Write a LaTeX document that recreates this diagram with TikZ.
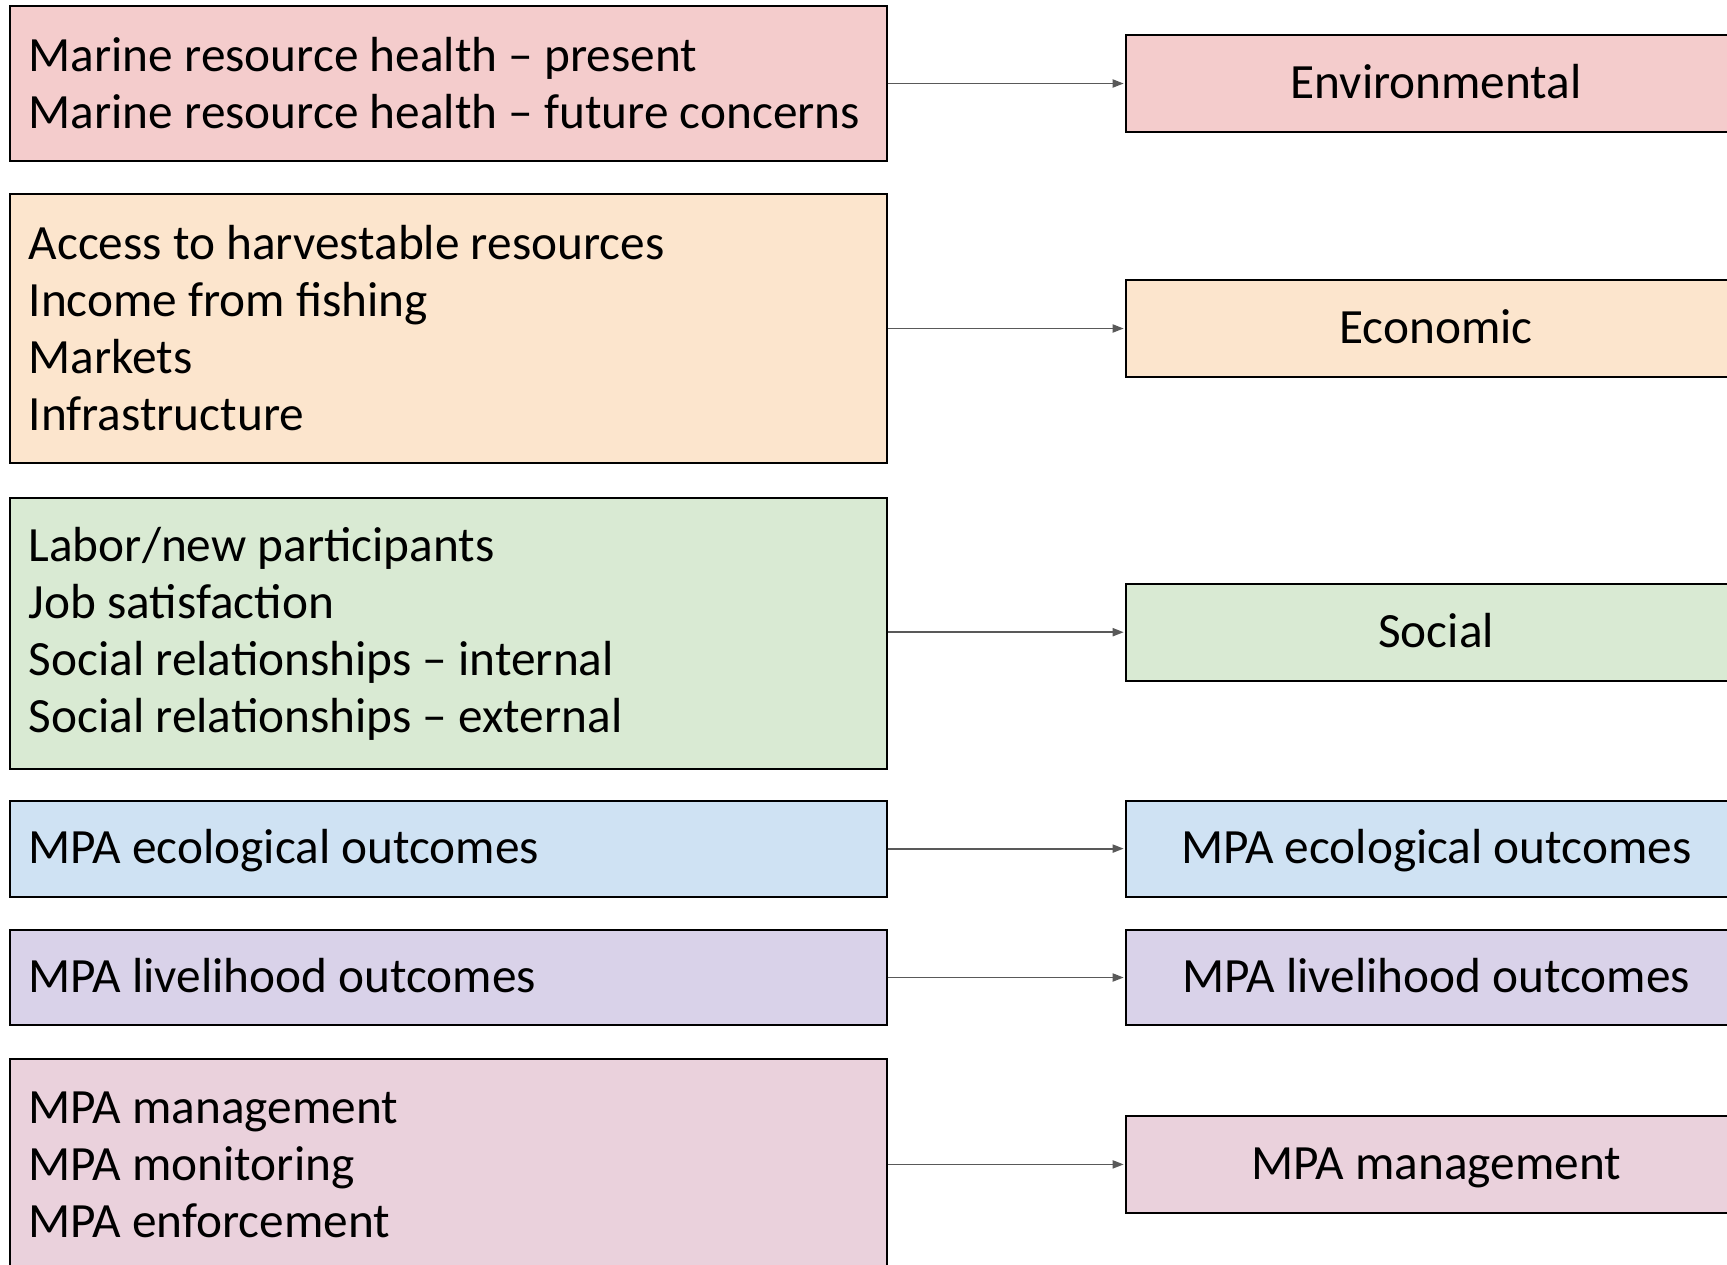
\documentclass[tikz,border=0pt]{standalone}
\usepackage{fontspec}
\setmainfont{Carlito}
\usetikzlibrary{arrows.meta}

\definecolor{envfill}{HTML}{F4CCCC}
\definecolor{ecofill}{HTML}{FCE5CD}
\definecolor{socfill}{HTML}{D9EAD3}
\definecolor{ecolfill}{HTML}{CFE2F3}
\definecolor{livefill}{HTML}{D9D2E9}
\definecolor{mgmtfill}{HTML}{EAD1DC}
\definecolor{arrowgray}{HTML}{595959}

\tikzset{
  x=1pt, y=-1pt,
  basebox/.style={draw=black, line width=2pt, rectangle,
    font=\fontsize{49.3}{57}\selectfont},
  itembox/.style={basebox, minimum width=876.7pt, text width=839.3pt,
    inner xsep=18.7pt, inner ysep=0pt, align=flush left},
  oneline/.style={text height=30pt, text depth=0pt},
  catbox/.style={basebox, minimum width=621pt, minimum height=97pt,
    inner sep=0pt, align=center, oneline},
  link/.style={draw=arrowgray, line width=1.8pt,
    -{Triangle[length=11pt,width=8pt]}, shorten >=1pt}
}

\begin{document}
\begin{tikzpicture}
\useasboundingbox (0,0) rectangle (1727,1264);

% indicator groups (left column)
\node[itembox, fill=envfill, minimum height=155.3pt] (L1) at (448.3,83.5)
  {Marine resource health -- present\\Marine resource health -- future concerns};
\node[itembox, fill=ecofill, minimum height=269.8pt] (L2) at (448.3,328.5)
  {Access to harvestable resources\\Income from fishing\\Markets\\Infrastructure};
\node[itembox, fill=socfill, minimum height=271pt] (L3) at (448.3,633.5)
  {Labor/new participants\\Job satisfaction\\Social relationships -- internal\\Social relationships -- external};
\node[itembox, oneline, fill=ecolfill, minimum height=95.8pt] (L4) at (448.3,848.6)
  {MPA ecological outcomes};
\node[itembox, oneline, fill=livefill, minimum height=95.8pt] (L5) at (448.3,977.5)
  {MPA livelihood outcomes};
\node[itembox, fill=mgmtfill, minimum height=211.5pt] (L6) at (448.3,1164.4)
  {MPA management\\MPA monitoring\\MPA enforcement};

% categories (right column)
\node[catbox, fill=envfill] (R1) at (1436.2,83.5) {Environmental};
\node[catbox, fill=ecofill] (R2) at (1436.2,328.5) {Economic};
\node[catbox, fill=socfill] (R3) at (1436.2,632.2) {Social};
\node[catbox, fill=ecolfill, minimum height=95.8pt] (R4) at (1436.2,848.6) {MPA ecological outcomes};
\node[catbox, fill=livefill, minimum height=95.8pt] (R5) at (1436.2,977.5) {MPA livelihood outcomes};
\node[catbox, fill=mgmtfill] (R6) at (1436.2,1164.4) {MPA management};

% connectors
\foreach \i in {1,...,6}
  \draw[link] (L\i.east |- R\i) -- (R\i);
\end{tikzpicture}
\end{document}
